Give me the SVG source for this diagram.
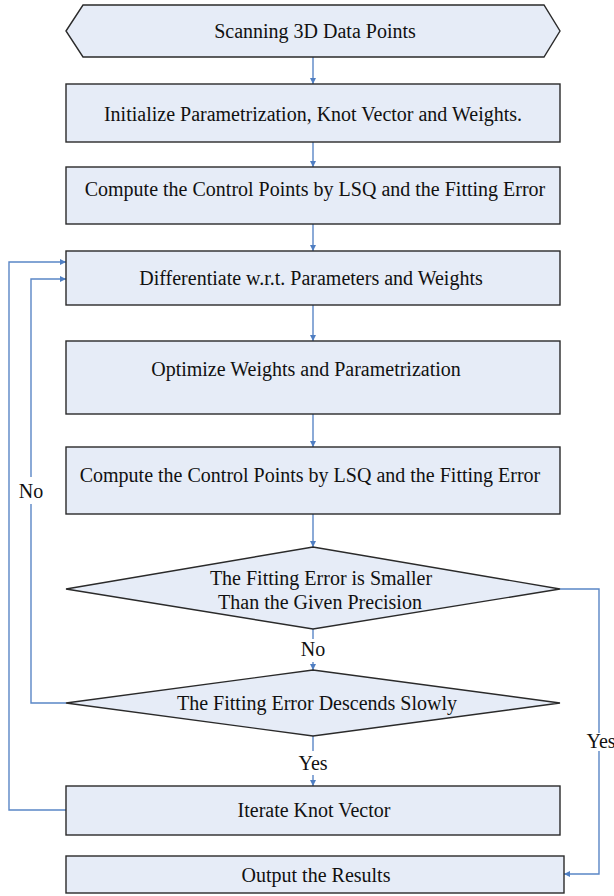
<svg xmlns="http://www.w3.org/2000/svg" width="614" height="896" viewBox="0 0 614 896">
<defs>
<style>
.n{fill:#E6ECF7;stroke:#2a2a2a;stroke-width:1.4}
text{font-family:"Liberation Serif","Times New Roman",serif;font-size:20px;fill:#111;text-anchor:middle}
.c{fill:none;stroke:#5A86C6;stroke-width:1.4}
</style>
<marker id="ah" viewBox="0 0 10 10" refX="10" refY="5" markerWidth="6" markerHeight="6" markerUnits="userSpaceOnUse" orient="auto">
<path d="M0,0 L10,5 L0,10 z" fill="#4F7EC2"/>
</marker>
</defs>
<rect width="614" height="896" fill="#fff"/>
<g id="connectors">
<line class="c" x1="313" y1="57" x2="313" y2="84" marker-end="url(#ah)"/>
<line class="c" x1="313" y1="142" x2="313" y2="167" marker-end="url(#ah)"/>
<line class="c" x1="313" y1="224" x2="313" y2="251" marker-end="url(#ah)"/>
<line class="c" x1="313" y1="305" x2="313" y2="341" marker-end="url(#ah)"/>
<line class="c" x1="313" y1="414" x2="313" y2="447" marker-end="url(#ah)"/>
<line class="c" x1="313" y1="514" x2="313" y2="547" marker-end="url(#ah)"/>
<line class="c" x1="313" y1="629" x2="313" y2="639"/>
<line class="c" x1="313" y1="662" x2="313" y2="670" marker-end="url(#ah)"/>
<line class="c" x1="313" y1="736" x2="313" y2="751"/>
<line class="c" x1="313" y1="775" x2="313" y2="786" marker-end="url(#ah)"/>
<polyline class="c" points="66,703 31,703 31,504"/>
<polyline class="c" points="31,477 31,279 66,279" marker-end="url(#ah)"/>
<polyline class="c" points="66,810 9,810 9,262 66,262" marker-end="url(#ah)"/>
<polyline class="c" points="560,589 599,589 599,733"/>
<polyline class="c" points="599,751 599,874 564,874" marker-end="url(#ah)"/>
<text x="31" y="498">No</text>
<text x="313" y="656">No</text>
<text x="313" y="770">Yes</text>
<text x="601" y="748">Yes</text>
</g>
<g id="start">
<polygon class="n" points="66,31 83,5 544,5 560,31 544,57 83,57"/>
<text x="315" y="38">Scanning 3D Data Points</text>
</g>
<g id="init">
<rect class="n" x="66" y="84" width="494" height="58"/>
<text x="313" y="121">Initialize Parametrization, Knot Vector and Weights.</text>
</g>
<g id="compute1">
<rect class="n" x="66" y="167" width="494" height="57"/>
<text x="315" y="196">Compute the Control Points by LSQ and the Fitting Error</text>
</g>
<g id="differentiate">
<rect class="n" x="66" y="251" width="494" height="54"/>
<text x="311" y="285">Differentiate w.r.t. Parameters and Weights</text>
</g>
<g id="optimize">
<rect class="n" x="66" y="341" width="494" height="73"/>
<text x="306" y="376">Optimize Weights and Parametrization</text>
</g>
<g id="compute2">
<rect class="n" x="66" y="447" width="494" height="67"/>
<text x="310" y="482">Compute the Control Points by LSQ and the Fitting Error</text>
</g>
<g id="precision">
<polygon class="n" points="66,589 313,547 560,589 313,629"/>
<text x="321" y="585">The Fitting Error is Smaller</text>
<text x="320" y="609">Than the Given Precision</text>
</g>
<g id="descends">
<polygon class="n" points="66,703 313,670 560,703 313,736"/>
<text x="317" y="710">The Fitting Error Descends Slowly</text>
</g>
<g id="iterate">
<rect class="n" x="66" y="786" width="494" height="49"/>
<text x="314" y="817">Iterate Knot Vector</text>
</g>
<g id="output">
<rect class="n" x="66" y="856" width="498" height="37"/>
<text x="316" y="882">Output the Results</text>
</g>
</svg>
